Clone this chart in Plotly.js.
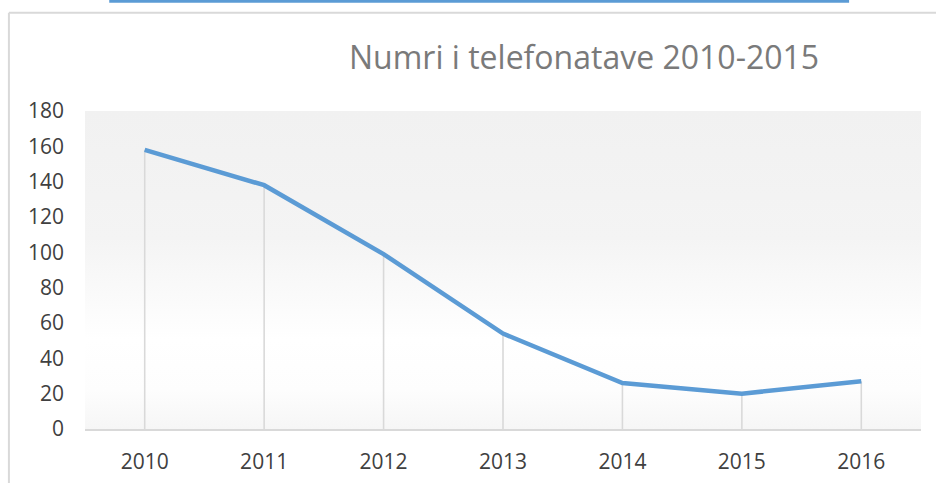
<!DOCTYPE html>
<html>
<head>
<meta charset="utf-8">
<script src="https://cdn.plot.ly/plotly-3.0.1.min.js"></script>
<style>
  html, body { margin: 0; padding: 0; background: #fff; }
  #chart { width: 936px; height: 483px; }
</style>
</head>
<body>
<div id="chart"></div>
<script>
const years = ['2010', '2011', '2012', '2013', '2014', '2015', '2016'];
const calls = [158, 138, 99, 54, 26, 20, 27];
const yTicks = [0, 20, 40, 60, 80, 100, 120, 140, 160, 180];

const chartTitle = 'Numri i telefonatave 2010-2015';

// soft grey-to-white fill behind the plot, like the office chart style
const gradientSvg =
  '<svg xmlns="http://www.w3.org/2000/svg" width="100" height="100" preserveAspectRatio="none">' +
  '<defs><linearGradient id="g" x1="0" y1="0" x2="0" y2="1">' +
  '<stop offset="0" stop-color="#f1f1f1"/>' +
  '<stop offset="0.4" stop-color="#f4f4f4"/>' +
  '<stop offset="0.72" stop-color="#ffffff"/>' +
  '<stop offset="0.88" stop-color="#fdfdfd"/>' +
  '<stop offset="1" stop-color="#f6f6f6"/>' +
  '</linearGradient></defs>' +
  '<rect width="100" height="100" fill="url(#g)"/></svg>';

// drop lines from each point to the axis
const dropLines = {
  x: years,
  y: calls,
  type: 'scatter',
  mode: 'markers',
  marker: { size: 1, color: 'rgba(0,0,0,0)' },
  error_y: {
    type: 'data',
    symmetric: false,
    array: calls.map(() => 0),
    arrayminus: calls,
    width: 0,
    thickness: 1.6,
    color: '#d9d9d9'
  },
  hoverinfo: 'skip',
  showlegend: false
};

const callsLine = {
  x: years,
  y: calls,
  type: 'scatter',
  mode: 'lines',
  line: { color: '#5b9bd5', width: 4.5 },
  showlegend: false
};

const layout = {
  width: 936,
  height: 483,
  margin: { l: 85, r: 15, t: 111, b: 54 },
  paper_bgcolor: '#ffffff',
  plot_bgcolor: 'rgba(0,0,0,0)',
  font: { family: 'Open Sans, sans-serif', color: '#404040', size: 21 },
  title: {
    text: chartTitle,
    font: { family: 'Open Sans, sans-serif', size: 32, color: '#7a7a7a' },
    xref: 'container',
    yref: 'container',
    x: 0.624,
    y: 0.881,
    xanchor: 'center',
    yanchor: 'middle'
  },
  xaxis: {
    type: 'category',
    range: [-0.5, 6.5],
    showgrid: false,
    zeroline: false,
    showline: true,
    linecolor: '#d9d9d9',
    linewidth: 1.5,
    ticks: '',
    ticklabelstandoff: 13,
    tickfont: { size: 21, color: '#404040' }
  },
  yaxis: {
    range: [0, 180],
    tickvals: yTicks,
    showgrid: false,
    zeroline: false,
    showline: false,
    ticks: '',
    ticklabelstandoff: 20,
    tickfont: { size: 21, color: '#404040' }
  },
  images: [{
    source: 'data:image/svg+xml;charset=utf-8,' + encodeURIComponent(gradientSvg),
    xref: 'paper', yref: 'paper',
    x: 0, y: 1, sizex: 1, sizey: 1,
    xanchor: 'left', yanchor: 'top',
    sizing: 'stretch',
    layer: 'below'
  }],
  shapes: [
    // chart frame (top and left edges visible in the crop)
    { type: 'line', xref: 'paper', yref: 'paper', x0: -0.091, x1: 1.02, y0: 1.309, y1: 1.309,
      line: { color: '#d9d9d9', width: 2 } },
    { type: 'line', xref: 'paper', yref: 'paper', x0: -0.091, x1: -0.091, y0: 1.309, y1: -0.2,
      line: { color: '#d9d9d9', width: 2 } },
    // blue bar at the very top
    { type: 'line', xref: 'paper', yref: 'paper', x0: 0.029, x1: 0.914, y0: 1.345, y1: 1.345,
      line: { color: '#5b9bd5', width: 3 } }
  ]
};

Plotly.newPlot('chart', [dropLines, callsLine], layout, { staticPlot: true });
</script>
</body>
</html>
